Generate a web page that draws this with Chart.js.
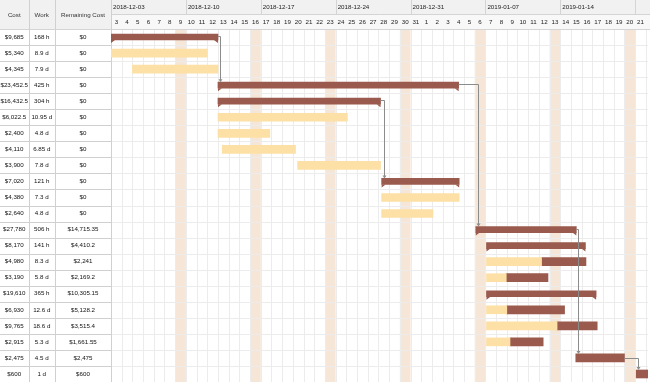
<!DOCTYPE html>
<html>
<head>
<meta charset="utf-8">
<script src="https://cdn.jsdelivr.net/npm/chart.js@4.4.1/dist/chart.umd.min.js"></script>
<style>
  html, body { margin: 0; padding: 0; background: #fff; }
  #wrap { width: 650px; height: 382px; }
</style>
</head>
<body>
<div id="wrap"><canvas id="gantt" width="650" height="382"></canvas></div>
<script>
// table columns
const costs = ['$9,685', '$5,340', '$4,345', '$23,452.5', '$16,432.5', '$6,022.5', '$2,400', '$4,110',
  '$3,900', '$7,020', '$4,380', '$2,640', '$27,780', '$8,170', '$4,980', '$3,190', '$19,610',
  '$6,930', '$9,765', '$2,915', '$2,475', '$600'];
const work = ['168 h', '8.9 d', '7.9 d', '425 h', '304 h', '10.95 d', '4.8 d', '6.85 d', '7.8 d', '121 h',
  '7.3 d', '4.8 d', '506 h', '141 h', '8.3 d', '5.8 d', '365 h', '12.6 d', '18.6 d', '5.3 d', '4.5 d', '1 d'];
const remaining = ['$0', '$0', '$0', '$0', '$0', '$0', '$0', '$0', '$0', '$0', '$0', '$0',
  '$14,715.35', '$4,410.2', '$2,241', '$2,169.2', '$10,305.15', '$5,128.2', '$3,515.4',
  '$1,661.55', '$2,475', '$600'];

// bars in days from 2018-12-03
const summaryBars = [[0, 10], null, null, [10, 32.5], [10, 25.2], null, null, null, null, [25.3, 32.55],
  null, null, [34.1, 43.5], [35.1, 44.35], null, null, [35.1, 45.35], null, null, null, null, null];
const doneBars = [null, [0, 9], [2, 10], null, null, [10, 22.1], [10, 14.85], [10.4, 17.25], [17.45, 25.2],
  null, [25.3, 32.55], [25.3, 30.1], null, null, [35.1, 40.25], [35.1, 36.95], null, [35.1, 37.0],
  [35.1, 41.7], [35.1, 37.3], null, null];
const leftBars = [null, null, null, null, null, null, null, null, null, null, null, null, null, null,
  [40.25, 44.4], [36.95, 40.85], null, [37.0, 42.4], [41.7, 45.45], [37.3, 40.4], [43.45, 48.0], [49.1, 50.2]];

const weekLabels = ['2018-12-03', '2018-12-10', '2018-12-17', '2018-12-24', '2018-12-31', '2019-01-07', '2019-01-14', ''];
const dayLabels = [3, 4, 5, 6, 7, 8, 9, 10, 11, 12, 13, 14, 15, 16, 17, 18, 19, 20, 21, 22, 23, 24, 25, 26, 27,
  28, 29, 30, 31, 1, 2, 3, 4, 5, 6, 7, 8, 9, 10, 11, 12, 13, 14, 15, 16, 17, 18, 19, 20, 21];
const sundays = [6, 13, 20, 27, 34, 41, 48];

// dependency links (row index)
const linkFrom = [0, 4, 3, 12, 20];
const linkTo = [3, 9, 12, 20, 21];

const rows = costs.map((c, i) => 'row' + (i + 1));
const DARK = '#9a5a4d';
const LIGHT = '#fce0a6';
const FONT = '6.2px "Liberation Sans", Arial, sans-serif';

function rowStart(i) {
  return Math.min(...[summaryBars[i], doneBars[i], leftBars[i]].filter(b => b).map(b => b[0]));
}
function rowEnd(i) {
  return Math.max(...[summaryBars[i], doneBars[i], leftBars[i]].filter(b => b).map(b => b[1]));
}

const ganttDeco = {
  id: 'ganttDeco',
  beforeDatasetsDraw(chart) {
    const { ctx, chartArea: a, scales: { x, y } } = chart;
    const rowH = (a.bottom - a.top) / rows.length;
    ctx.save();

    // sunday bands
    ctx.fillStyle = '#f5e6d7';
    sundays.forEach(d => {
      const x0 = x.getPixelForValue(d), x1 = x.getPixelForValue(d + 1);
      ctx.fillRect(x0, a.top, x1 - x0, a.bottom - a.top);
    });

    // grid
    ctx.lineWidth = 1;
    ctx.strokeStyle = '#ececec';
    ctx.beginPath();
    for (let d = 1; d <= dayLabels.length; d++) {
      const px = Math.round(x.getPixelForValue(d)) + 0.5;
      ctx.moveTo(px, a.top); ctx.lineTo(px, a.bottom);
    }
    for (let i = 0; i < rows.length; i++) {
      const py = Math.round(y.getPixelForValue(i) + rowH / 2) + 0.5;
      ctx.moveTo(a.left, py); ctx.lineTo(a.right, py);
    }
    ctx.stroke();

    // header of timeline
    ctx.fillStyle = '#f1f1f1';
    ctx.fillRect(a.left, 0, a.right - a.left + 2, 14);
    ctx.fillStyle = '#f8f8f8';
    ctx.fillRect(a.left, 14, a.right - a.left + 2, a.top - 14);
    ctx.strokeStyle = '#d4d4d4';
    ctx.beginPath();
    ctx.moveTo(a.left, 14.5); ctx.lineTo(a.right + 2, 14.5);
    ctx.moveTo(0, a.top + 0.5); ctx.lineTo(a.right + 2, a.top + 0.5);
    weekLabels.forEach((w, k) => {
      if (k === 0) return;
      const px = Math.round(x.getPixelForValue(k * 7)) + 0.5;
      ctx.moveTo(px, 0); ctx.lineTo(px, 14);
    });
    ctx.stroke();

    ctx.fillStyle = '#222';
    ctx.font = FONT;
    ctx.textBaseline = 'middle';
    ctx.textAlign = 'left';
    weekLabels.forEach((w, k) => {
      if (w) ctx.fillText(w, x.getPixelForValue(k * 7) + 2, 7.5);
    });
    ctx.textAlign = 'center';
    dayLabels.forEach((d, i) => {
      ctx.fillText(String(d), x.getPixelForValue(i + 0.5), 22);
    });

    // left table
    const cols = [0, 28.5, 55, a.left];
    ctx.fillStyle = '#f1f1f1';
    ctx.fillRect(0, 0, a.left, a.top);
    ctx.strokeStyle = '#d0d0d0';
    ctx.beginPath();
    cols.slice(1).forEach(cx => {
      const px = Math.round(cx) + 0.5;
      ctx.moveTo(px, 0); ctx.lineTo(px, a.bottom);
    });
    for (let i = 0; i < rows.length; i++) {
      const py = Math.round(y.getPixelForValue(i) + rowH / 2) + 0.5;
      ctx.moveTo(0, py); ctx.lineTo(a.left, py);
    }
    ctx.stroke();

    ctx.fillStyle = '#333';
    ['Cost', 'Work', 'Remaining Cost'].forEach((h, c) => {
      ctx.fillText(h, (cols[c] + cols[c + 1]) / 2, 15);
    });
    ctx.fillStyle = '#111';
    [costs, work, remaining].forEach((col, c) => {
      col.forEach((v, i) => {
        ctx.fillText(v, (cols[c] + cols[c + 1]) / 2, y.getPixelForValue(i));
      });
    });
    ctx.restore();
  },
  afterDatasetsDraw(chart) {
    const { ctx, scales: { x, y } } = chart;
    ctx.save();

    // summary end hooks
    ctx.fillStyle = DARK;
    chart.getDatasetMeta(0).data.forEach((bar, i) => {
      if (!summaryBars[i]) return;
      const x0 = x.getPixelForValue(summaryBars[i][0]);
      const x1 = x.getPixelForValue(summaryBars[i][1]);
      const yb = bar.y + bar.height / 2;
      ctx.beginPath();
      ctx.moveTo(x0, yb); ctx.lineTo(x0 + 4, yb); ctx.lineTo(x0, yb + 3); ctx.closePath();
      ctx.moveTo(x1, yb); ctx.lineTo(x1 - 4, yb); ctx.lineTo(x1, yb + 3); ctx.closePath();
      ctx.fill();
    });

    // dependency links
    ctx.strokeStyle = '#8c8c8c';
    ctx.fillStyle = '#8c8c8c';
    ctx.lineWidth = 1;
    linkFrom.forEach((from, k) => {
      const to = linkTo[k];
      const xe = x.getPixelForValue(rowEnd(from));
      const ys = y.getPixelForValue(from) - (summaryBars[from] ? 1 : 0);
      const vx = Math.round(x.getPixelForValue(rowStart(to)) + 2) + 0.5;
      const yt = y.getPixelForValue(to) - (summaryBars[to] ? 3 : 4);
      ctx.beginPath();
      ctx.moveTo(xe, Math.round(ys) + 0.5);
      ctx.lineTo(vx, Math.round(ys) + 0.5);
      ctx.lineTo(vx, yt - 2);
      ctx.stroke();
      ctx.beginPath();
      ctx.moveTo(vx - 2, yt - 3); ctx.lineTo(vx + 2, yt - 3); ctx.lineTo(vx, yt); ctx.closePath();
      ctx.fill();
    });
    ctx.restore();
  }
};

new Chart(document.getElementById('gantt').getContext('2d'), {
  type: 'bar',
  data: {
    labels: rows,
    datasets: [
      { label: 'Summary', data: summaryBars, backgroundColor: DARK, barThickness: 6, grouped: false },
      { label: 'Done', data: doneBars, backgroundColor: LIGHT, barThickness: 8, grouped: false },
      { label: 'Remaining', data: leftBars, backgroundColor: DARK, barThickness: 8, grouped: false }
    ]
  },
  options: {
    indexAxis: 'y',
    responsive: false,
    animation: false,
    devicePixelRatio: 1,
    layout: { padding: { left: 111, top: 29, right: 2, bottom: 0 } },
    scales: {
      x: { type: 'linear', min: 0, max: 50.2, display: false },
      y: { type: 'category', display: false, offset: true }
    },
    plugins: { legend: { display: false }, tooltip: { enabled: false } }
  },
  plugins: [ganttDeco]
});
</script>
</body>
</html>
